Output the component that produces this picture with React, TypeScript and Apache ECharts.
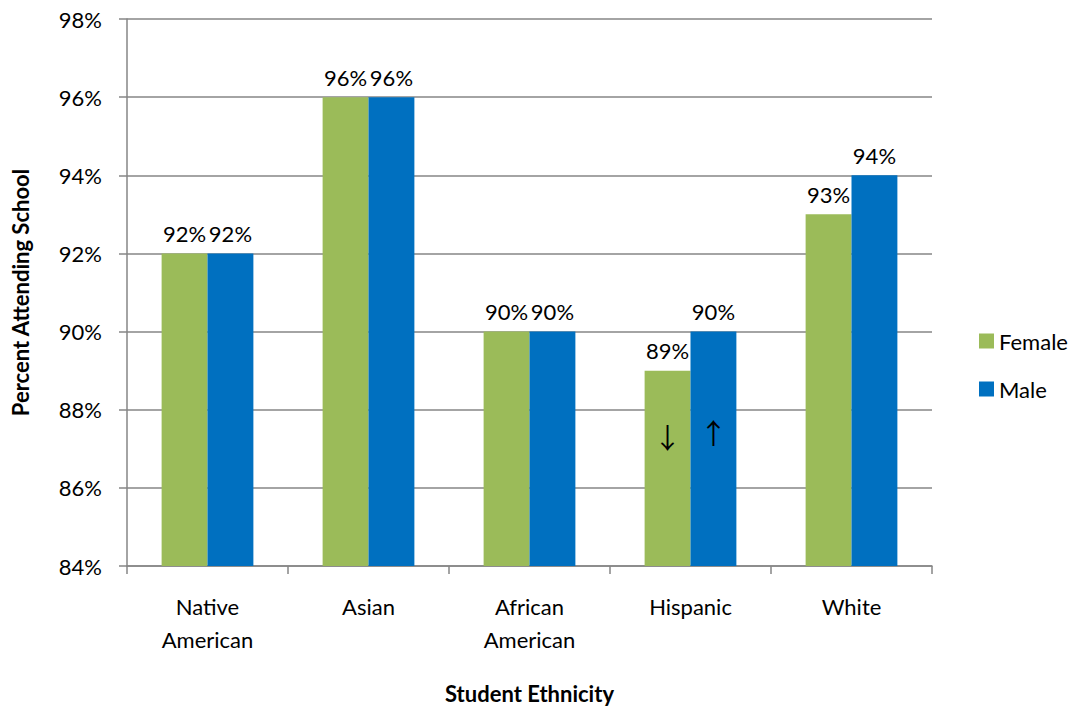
import React, { useEffect, useRef } from "react";
import * as echarts from "echarts";

const categories = ["Native\nAmerican", "Asian", "African\nAmerican", "Hispanic", "White"];
const female = [92, 96, 90, 89, 93];
const male = [92, 96, 90, 90, 94];
const yTicks = { min: 84, max: 98, interval: 2 };

const FONT = "Lato, 'Open Sans', sans-serif";
const FS = 22;

export default function App() {
  const ref = useRef<HTMLDivElement>(null);
  useEffect(() => {
    if (!ref.current) return;
    const chart = echarts.init(ref.current, null, { renderer: "svg" });
    const labelStyle = {
      show: true,
      position: "top" as const,
      distance: 9,
      formatter: (p: any) => `${p.value}%`,
      fontFamily: FONT,
      fontSize: FS,
      color: "#000",
    };
    const arrowLabel = (ch: string) => ({
      show: true,
      formatter: ch,
      fontSize: 28,
      color: "#000",
      fontFamily: "'Noto Sans CJK SC', 'DejaVu Sans', sans-serif",
      position: "inside",
    });
    chart.setOption({
      animation: false,
      textStyle: { fontFamily: FONT },
      grid: { left: 127, right: 147, top: 19, bottom: 140, outerBoundsMode: "none", containLabel: false },
      legend: {
        orient: "vertical",
        left: 974,
        top: 325,
        itemWidth: 15,
        itemHeight: 15,
        itemGap: 26,
        icon: "rect",
        textStyle: { fontFamily: FONT, fontSize: FS, color: "#000" },
        data: ["Female", "Male"],
      },
      xAxis: {
        type: "category",
        data: categories,
        name: "Student Ethnicity",
        nameLocation: "middle",
        nameGap: 116,
        nameTextStyle: { fontFamily: FONT, fontSize: FS, fontWeight: "bold", color: "#000" },
        axisLine: { lineStyle: { color: "#868686", width: 1.5 } },
        axisTick: { show: true, length: 8, lineStyle: { color: "#868686", width: 1.5 } },
        axisLabel: { fontFamily: FONT, fontSize: FS, color: "#000", margin: 24, lineHeight: 33 },
      },
      yAxis: {
        type: "value",
        min: yTicks.min,
        max: yTicks.max,
        interval: yTicks.interval,
        name: "Percent Attending School",
        nameLocation: "middle",
        nameGap: 96,
        nameRotate: 90,
        nameTextStyle: { fontFamily: FONT, fontSize: FS, fontWeight: "bold", color: "#000" },
        axisLine: { show: true, lineStyle: { color: "#868686", width: 1.5 } },
        axisTick: { show: true, length: 8, inside: false, lineStyle: { color: "#868686", width: 1.5 } },
        splitLine: { lineStyle: { color: "#868686", width: 1.5 } },
        axisLabel: { fontFamily: FONT, fontSize: FS, color: "#000", margin: 25, formatter: "{value}%" },
      },
      series: [
        {
          name: "Female",
          type: "bar",
          data: female,
          barGap: "0%",
          barCategoryGap: "43%",
          itemStyle: { color: "#9BBB59" },
          label: labelStyle,
          markPoint: {
            symbol: "circle",
            symbolSize: 2,
            silent: true,
            itemStyle: { color: "rgba(0,0,0,0)" },
            label: arrowLabel("↓"),
            data: [{ coord: ["Hispanic", 87.3] }],
          },
        },
        {
          name: "Male",
          type: "bar",
          data: male,
          barGap: "0%",
          barCategoryGap: "43%",
          itemStyle: { color: "#0070C0" },
          label: labelStyle,
          markPoint: {
            symbol: "circle",
            symbolSize: 2,
            silent: true,
            itemStyle: { color: "rgba(0,0,0,0)" },
            label: arrowLabel("↑"),
            data: [{ coord: ["Hispanic", 87.43] }],
          },
        },
      ],
    });
    return () => chart.dispose();
  }, []);
  return (
    <div
      ref={ref}
      style={{ position: "fixed", left: 0, top: 0, width: 1079, height: 706, background: "#fff" }}
    />
  );
}
